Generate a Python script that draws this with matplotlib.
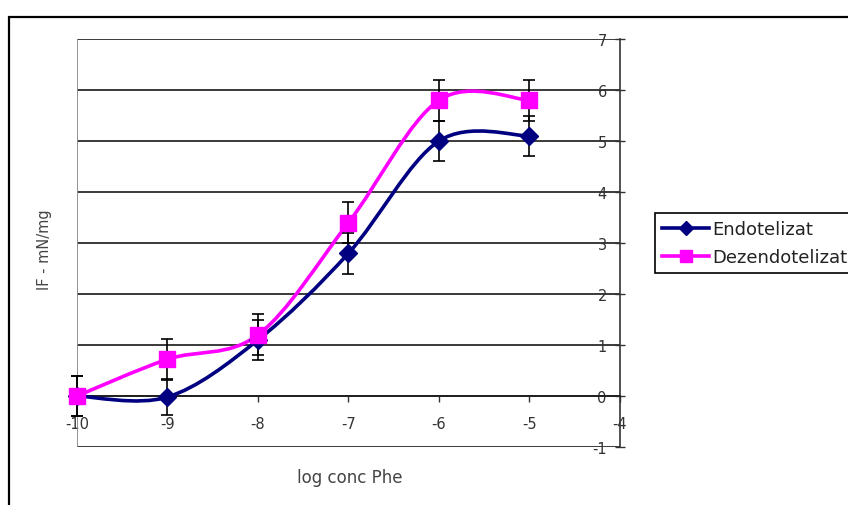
import matplotlib
matplotlib.use('Agg')
import matplotlib.pyplot as plt
import numpy as np
from matplotlib.path import Path
from matplotlib.patches import PathPatch, Rectangle
from matplotlib.lines import Line2D

plt.rcParams['font.family'] = ['DejaVu Sans']
plt.rcParams['axes.unicode_minus'] = False

# ---- data ----
log_conc = [-10, -9, -8, -7, -6, -5]
endotelizat = [0.0, -0.02, 1.1, 2.8, 5.0, 5.1]
endotelizat_err = [0.4, 0.35, 0.4, 0.4, 0.4, 0.4]
dezendotelizat = [0.0, 0.72, 1.2, 3.4, 5.8, 5.8]
dezendotelizat_err = [0.4, 0.4, 0.4, 0.4, 0.4, 0.4]
series_names = ['Endotelizat', 'Dezendotelizat']
x_ticks = [-10, -9, -8, -7, -6, -5, -4]
y_ticks = [-1, 0, 1, 2, 3, 4, 5, 6, 7]
x_label = 'log conc Phe'
y_label = 'IF - mN/mg'

W, H = 848, 506
fig = plt.figure(figsize=(W / 100, H / 100), dpi=100)
fig.patch.set_facecolor('white')

# outer chart border (right/bottom edges lie outside the image)
fig.patches.append(Rectangle((9 / W, -0.2), 2.0, 1 - 18 / H + 0.2, transform=fig.transFigure,
                             fill=False, edgecolor='black', lw=1.6, zorder=0))

left, right, top, bottom = 77, 620, 40, 448
ax = fig.add_axes([left / W, 1 - bottom / H, (right - left) / W, (bottom - top) / H])
ax.set_xlim(x_ticks[0], x_ticks[-1])
ax.set_ylim(y_ticks[0], y_ticks[-1])


def smooth_path(xs, ys):
    pts = np.column_stack([xs, ys]).astype(float)
    n = len(pts)
    verts = [pts[0]]
    codes = [Path.MOVETO]
    for i in range(n - 1):
        p0 = pts[i - 1] if i > 0 else pts[i]
        p1 = pts[i]
        p2 = pts[i + 1]
        p3 = pts[i + 2] if i + 2 < n else pts[i + 1]
        c1 = p1 + (p2 - p0) / 6.0
        c2 = p2 - (p3 - p1) / 6.0
        verts += [c1, c2, p2]
        codes += [Path.CURVE4] * 3
    return Path(verts, codes)


colors = ['#000080', '#FF00FF']
markers = ['D', 's']
msizes = [9, 11]
values = [endotelizat, dezendotelizat]
errors = [endotelizat_err, dezendotelizat_err]

for vals, errs, c, m, ms in zip(values, errors, colors, markers, msizes):
    ax.add_patch(PathPatch(smooth_path(log_conc, vals), fill=False, edgecolor=c,
                           lw=2.6, zorder=3, capstyle='round', joinstyle='round'))
    eb = ax.errorbar(log_conc, vals, yerr=errs, fmt='none', ecolor='black', elinewidth=1.2,
                     capsize=4.5, capthick=1.2, zorder=4)
    for art in eb.lines[1] + eb.lines[2]:
        art.set_clip_on(False)
    ax.plot(log_conc, vals, linestyle='none', marker=m, ms=ms, color=c, zorder=5,
            clip_on=False)

# grid / frame
ax.set_yticks(y_ticks)
ax.set_xticks(x_ticks)
ax.grid(axis='y', color='#3a3a3a', lw=1.4)
ax.set_axisbelow(True)
ax.axvline(x_ticks[0], color='#8a8a8a', lw=1.3, zorder=1)

for s in ['top', 'right']:
    ax.spines[s].set_visible(False)
ax.spines['left'].set_position(('data', x_ticks[-1]))
ax.spines['bottom'].set_position(('data', 0))
ax.spines['left'].set_color('#333333')
ax.spines['bottom'].set_color('#222222')
ax.spines['left'].set_linewidth(1.2)
ax.spines['bottom'].set_linewidth(1.4)

ax.tick_params(axis='y', direction='inout', length=7, width=1, colors='#333333',
               labelsize=10.5, pad=6)
ax.tick_params(axis='x', direction='out', length=4, width=1, colors='#333333',
               labelsize=10.5, pad=10.5)

fig.text(45 / W, 1 - 250 / H, y_label, rotation=90, ha='center', va='center',
         fontsize=10.5, color='#444444')
fig.text(350 / W, 1 - 478 / H, x_label, ha='center', va='center',
         fontsize=12, color='#444444')

handles = [Line2D([], [], color=c, lw=2.6, marker=m, ms=ms * 0.75)
           for c, m, ms in zip(colors, markers, msizes)]
leg = fig.legend(handles, series_names, loc='upper left',
                 bbox_to_anchor=(655 / W, 1 - 214 / H), borderaxespad=0,
                 fontsize=13, frameon=True, fancybox=False, framealpha=1,
                 edgecolor='black', handlelength=2.6, handletextpad=0.15,
                 borderpad=0.4, labelspacing=0.55)
leg.get_frame().set_linewidth(1.2)
for t in leg.get_texts():
    t.set_color('#222222')

fig.savefig('out.png', dpi=100)
